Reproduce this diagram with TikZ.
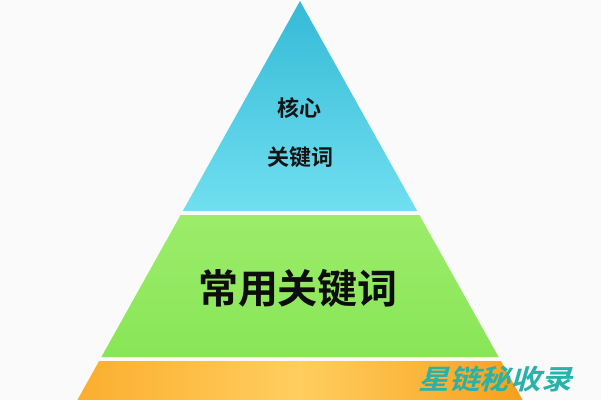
\documentclass[tikz,border=0pt]{standalone}
\usepackage{fontspec}
\newfontfamily\cjk{Noto Sans CJK SC}[BoldFont={Noto Sans CJK SC Bold}]

\definecolor{tipblue}{RGB}{53,186,215}
\definecolor{baseblue}{RGB}{112,223,240}
\definecolor{midgreen}{RGB}{156,236,106}
\definecolor{lowgreen}{RGB}{136,230,86}
\definecolor{orangeL}{RGB}{252,174,46}
\definecolor{orangeM}{RGB}{255,206,95}
\definecolor{orangeR}{RGB}{247,160,28}
\definecolor{markteal}{RGB}{40,178,170}

\tikzset{every picture/.style={line width=0.75pt}}
\tikzset{
  smalltext/.style={inner sep=0.75pt, font=\cjk\bfseries\fontsize{16.5}{18}\selectfont, text=black!92},
  bigtext/.style={inner sep=0.75pt, font=\cjk\bfseries\fontsize{30}{33}\selectfont, text=black!95},
  marktext/.style={inner sep=0pt, font=\cjk\bfseries\fontsize{20.5}{22}\selectfont, text=markteal, xscale=1.12, xslant=0.25}
}

\begin{document}
\begin{tikzpicture}[x=0.75pt,y=0.75pt,yscale=-1,xscale=1]
\useasboundingbox (0,0) rectangle (601,400);
\fill[white!98!black] (0,0) rectangle (601,400);

%Top layer 
\shade[top color=tipblue, bottom color=baseblue] (300,1) -- (417.2,211) -- (182.8,211) -- cycle;
%Middle layer 
\shade[top color=midgreen, bottom color=lowgreen] (180.6,215) -- (419.4,215) -- (498.6,357) -- (101.4,357) -- cycle;
%Bottom layer 
\shade[left color=orangeL, right color=orangeR, middle color=orangeM] (99.1,361) -- (500.9,361) -- (522.6,400) -- (77.4,400) -- cycle;

% Text Node
\draw (299,108) node (hexin) [smalltext] {核心};
% Text Node
\draw (300,157) node (guanjianci) [smalltext] {关键词};
% Text Node
\draw (298,288) node (changyong) [bigtext] {常用关键词};
% Text Node
\draw (498,379) node (mark) [marktext] {星链秘收录};

\end{tikzpicture}
\end{document}
